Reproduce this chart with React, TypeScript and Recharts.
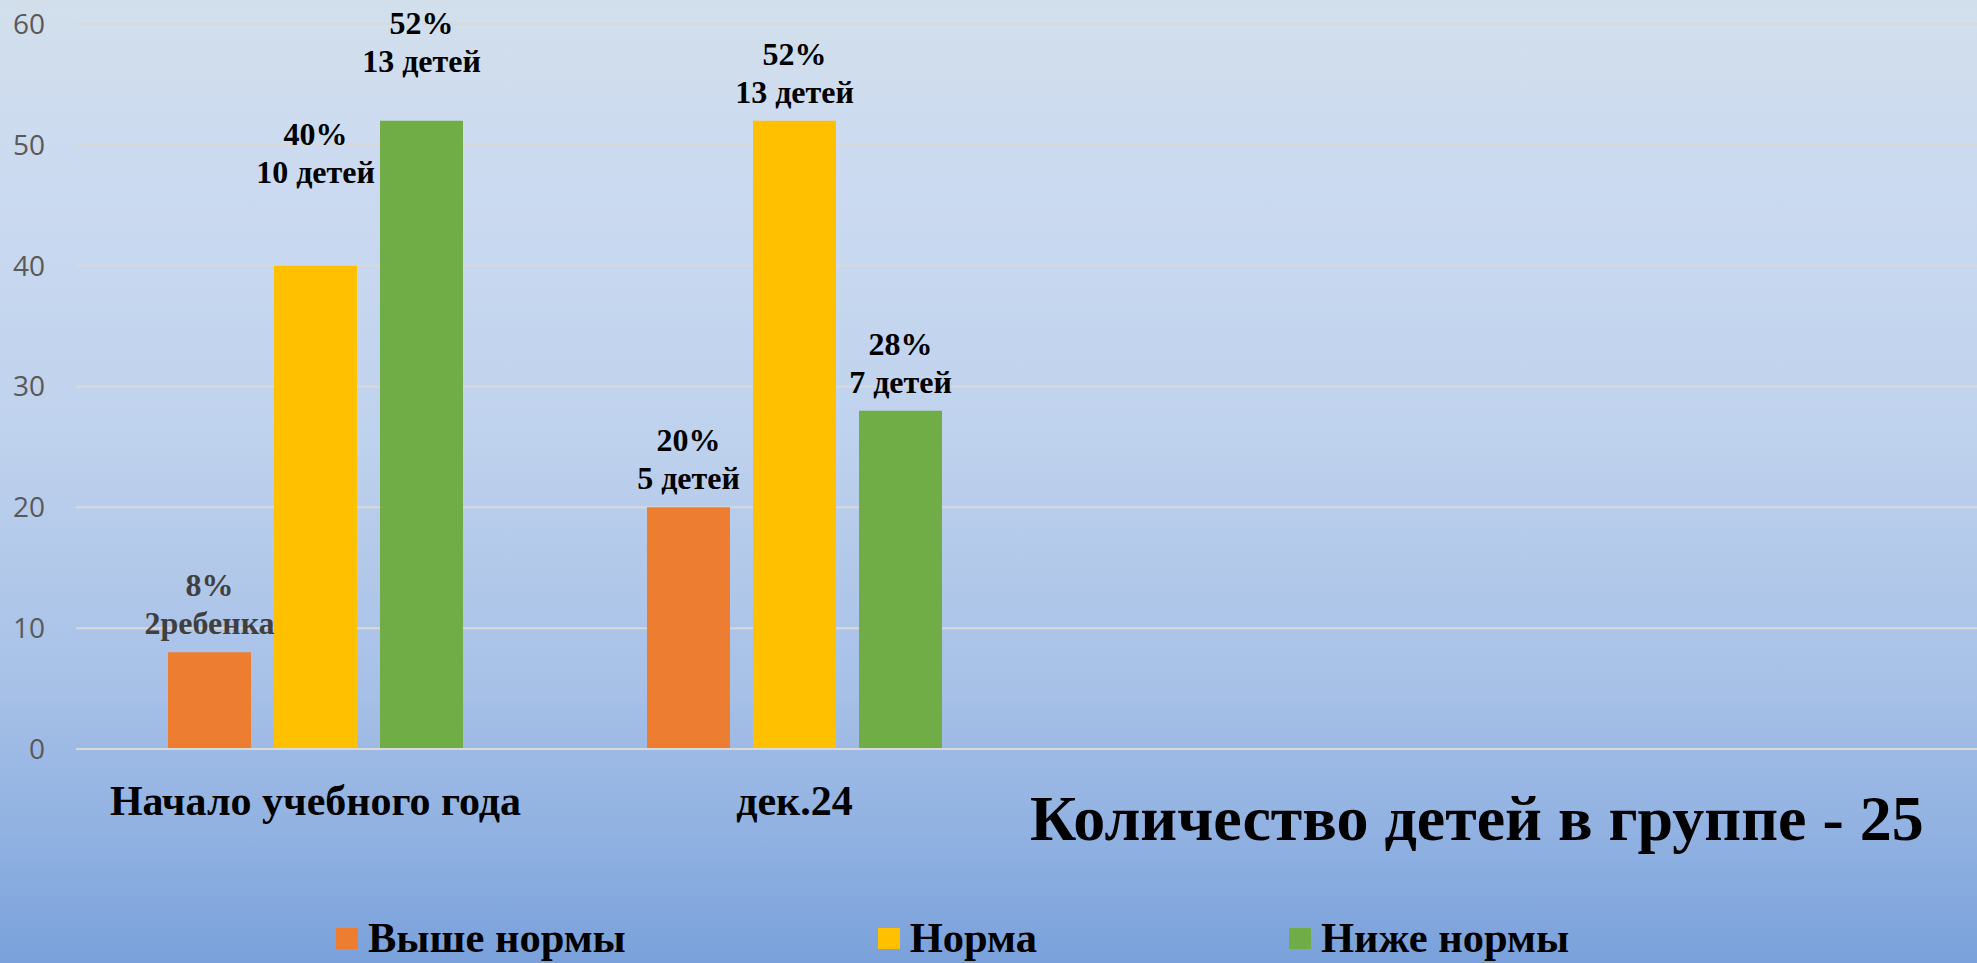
import { BarChart, Bar, XAxis, YAxis, CartesianGrid, LabelList } from "recharts";

// Chart data
const categories = ["Начало учебного года", "дек.24", "", ""];
const aboveNorm = [8, 20];
const norm = [40, 52];
const belowNorm = [52, 28];
const aboveNormCount = ["2ребенка", "5 детей"];
const normCount = ["10 детей", "13 детей"];
const belowNormCount = ["13 детей", "7 детей"];
const yTicks = [0, 10, 20, 30, 40, 50, 60];

const series = [
  { key: "above", name: "Выше нормы", color: "#ED7D31", counts: aboveNormCount },
  { key: "norm", name: "Норма", color: "#FFC000", counts: normCount },
  { key: "below", name: "Ниже нормы", color: "#70AD47", counts: belowNormCount },
];

// labels that were dragged up by hand in the original slide
const labelLift: Record<string, number[]> = {
  above: [0, 0],
  norm: [65, 0],
  below: [31, 0],
};
const labelColor: Record<string, string[]> = {
  above: ["#404040", "#000"],
  norm: ["#000", "#000"],
  below: ["#000", "#000"],
};

const data = categories.map((name, i) => ({
  name,
  above: aboveNorm[i] ?? null,
  norm: norm[i] ?? null,
  below: belowNorm[i] ?? null,
}));

const SERIF = "'Liberation Serif', 'Times New Roman', serif";

function CategoryTick({ x, y, payload }: any) {
  if (!payload?.value) return null;
  return (
    <text
      x={x}
      y={y + 66}
      textAnchor="middle"
      fontFamily={SERIF}
      fontWeight={700}
      fontSize={42}
      fill="#000"
    >
      {payload.value}
    </text>
  );
}

function makeLabel(key: string, counts: string[]) {
  return (props: any) => {
    const { x, y, width, value, index } = props;
    if (value == null) return null;
    const cx = x + width / 2;
    const base = y - 18 - (labelLift[key][index] ?? 0);
    const fill = labelColor[key][index] ?? "#000";
    return (
      <g>
        <text x={cx} y={base - 38} textAnchor="middle" fontFamily={SERIF} fontWeight={700} fontSize={32} fill={fill}>
          {`${value}%`}
        </text>
        <text x={cx} y={base} textAnchor="middle" fontFamily={SERIF} fontWeight={700} fontSize={32} fill={fill}>
          {counts[index]}
        </text>
      </g>
    );
  };
}

export default function App() {
  return (
    <div
      style={{
        position: "absolute",
        left: 0,
        top: 0,
        width: 1977,
        height: 963,
        overflow: "hidden",
        background:
          "linear-gradient(to bottom, #d2dfeb 0%, #cbdaf0 18%, #bfd2ed 45%, #a6c0e7 72%, #8eb0e1 88%, #7aa1db 100%)",
      }}
    >
      <BarChart
        width={2000}
        height={963}
        data={data}
        margin={{ top: 24, right: 8, left: 0, bottom: 0 }}
        barSize={83}
        barGap={23}
      >
        <CartesianGrid vertical={false} stroke="#d9d9d9" strokeWidth={2} />
        <XAxis
          dataKey="name"
          height={214}
          interval={0}
          tickSize={0}
          tickMargin={0}
          tickLine={false}
          axisLine={{ stroke: "#d9d9d9", strokeWidth: 2 }}
          tick={<CategoryTick />}
        />
        <YAxis
          width={76}
          domain={[0, 60]}
          ticks={yTicks}
          axisLine={false}
          tickLine={false}
          tickSize={0}
          tickMargin={31}
          tick={{ fontSize: 28, fill: "#595959", fontFamily: "'Open Sans', sans-serif" }}
        />
        {series.map((s) => (
          <Bar key={s.key} dataKey={s.key} name={s.name} fill={s.color} isAnimationActive={false}>
            <LabelList dataKey={s.key} content={makeLabel(s.key, s.counts)} />
          </Bar>
        ))}
      </BarChart>

      {/* Title */}
      <div
        style={{
          position: "absolute",
          left: 1030,
          top: 787,
          fontFamily: SERIF,
          fontWeight: 700,
          fontSize: 64,
          lineHeight: 1,
          whiteSpace: "nowrap",
          color: "#000",
        }}
      >
        Количество детей в группе - 25
      </div>

      {/* Legend */}
      <div
        style={{
          position: "absolute",
          left: 336,
          top: 917,
          display: "flex",
          gap: 252,
          fontFamily: SERIF,
          fontWeight: 700,
          fontSize: 42.5,
          lineHeight: 1,
          whiteSpace: "nowrap",
        }}
      >
        {series.map((s) => (
          <div key={s.key} style={{ display: "flex", alignItems: "flex-start" }}>
            <span
              style={{
                display: "inline-block",
                width: 22,
                height: 21,
                marginTop: 11,
                marginRight: 10,
                background: s.color,
              }}
            />
            <span>{s.name}</span>
          </div>
        ))}
      </div>
    </div>
  );
}
